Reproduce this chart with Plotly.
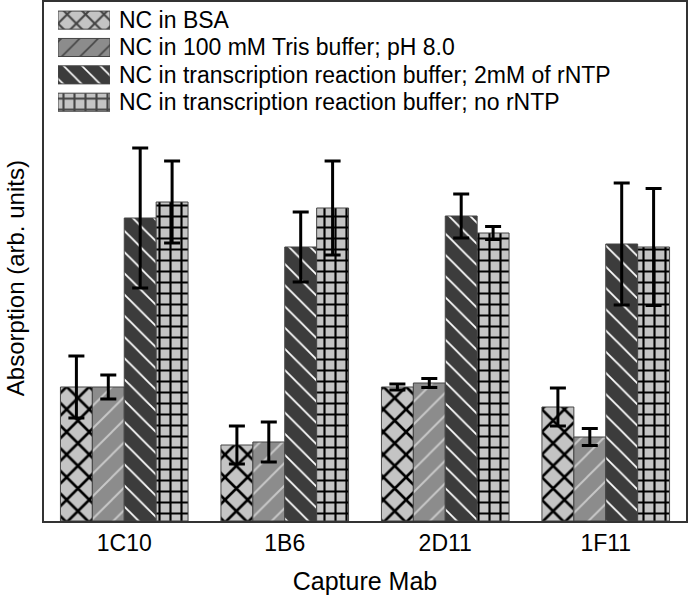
import plotly.graph_objects as go

categories = ["1C10", "1B6", "2D11", "1F11"]
series_names = [
    "NC in BSA",
    "NC in 100 mM Tris buffer; pH 8.0",
    "NC in transcription reaction buffer; 2mM of rNTP",
    "NC in transcription reaction buffer; no rNTP",
]
bsa = [1.34, 0.76, 1.34, 1.14]
bsa_err = [0.31, 0.19, 0.03, 0.19]
tris = [1.34, 0.79, 1.38, 0.84]
tris_err = [0.12, 0.20, 0.045, 0.085]
rntp = [3.03, 2.74, 3.05, 2.77]
rntp_err = [0.70, 0.35, 0.22, 0.61]
no_rntp = [3.19, 3.13, 2.88, 2.74]
no_rntp_err = [0.41, 0.47, 0.065, 0.585]

values = [bsa, tris, rntp, no_rntp]
errors = [bsa_err, tris_err, rntp_err, no_rntp_err]

fills = ["#c4c4c4", "#8c8c8c", "#3c3c3c", "#c4c4c4"]
shapes = ["x", "/", "\\", "+"]
fgcols = ["#000000", "#c8c8c8", "#ffffff", "#000000"]
psizes = [16, 16, 15, 11]
solid = [0.3, 0.12, 0.12, 0.35]

fig = go.Figure()
for i in range(4):
    fig.add_trace(go.Bar(
        x=categories, y=values[i], name=series_names[i], showlegend=False,
        marker=dict(color=fills[i], line=dict(color="#444444", width=1),
                    pattern=dict(shape=shapes[i], fgcolor=fgcols[i], bgcolor=fills[i],
                                 size=psizes[i], solidity=solid[i], fgopacity=1,
                                 fillmode="overlay")),
        error_y=dict(type="data", array=errors[i], visible=True, color="#000000",
                     thickness=3, width=8),
    ))

# legend swatches drawn as an inset bar subplot
fig.add_trace(go.Bar(
    x=[1, 1, 1, 1], y=series_names, orientation="h", width=0.66,
    xaxis="x2", yaxis="y2", showlegend=False, hoverinfo="skip",
    marker=dict(color=fills, line=dict(color="#444444", width=1),
                pattern=dict(shape=shapes, fgcolor=fgcols, bgcolor=fills,
                             size=[13, 13, 13, 11], solidity=solid, fgopacity=1,
                             fillmode="overlay")),
))

annotations = []
for name in series_names:
    annotations.append(dict(text=name, x=0.113, xref="paper", y=name, yref="y2",
                            xanchor="left", yanchor="middle", showarrow=False,
                            font=dict(size=23, color="#000000")))
annotations.append(dict(text="Absorption (arb. units)", x=-0.045, xref="paper",
                        y=0.468, yref="paper", textangle=-90, showarrow=False,
                        xanchor="center", yanchor="middle",
                        font=dict(size=24, color="#000000")))

fig.update_layout(
    template="none",
    width=688, height=596,
    margin=dict(l=44, r=2, t=2, b=75, autoexpand=False),
    paper_bgcolor="white", plot_bgcolor="white",
    font=dict(family="Liberation Sans, Arial, sans-serif", color="#000000"),
    barmode="group", bargap=0.205, bargroupgap=0,
    xaxis=dict(range=[-0.5, 3.5], showline=True, linecolor="#333333", linewidth=2,
               mirror=True, ticks="", tickfont=dict(size=23), automargin=False,
               showgrid=False, zeroline=False,
               title=dict(text="Capture Mab", font=dict(size=25), standoff=18)),
    yaxis=dict(range=[0, 5.19], showline=True, linecolor="#333333", linewidth=2,
               mirror=True, showticklabels=False, ticks="", showgrid=False,
               zeroline=False, automargin=False),
    xaxis2=dict(domain=[14 / 642, 66 / 642], range=[0, 1], anchor="y2",
                visible=False, fixedrange=True, automargin=False),
    yaxis2=dict(domain=[0.778, 0.994], anchor="x2", visible=False,
                type="category", categoryorder="array", categoryarray=series_names,
                autorange="reversed", fixedrange=True, automargin=False),
    annotations=annotations,
)

fig.write_html("out.html", config={"displayModeBar": False},
               post_script="document.body.style.margin='0';document.body.style.padding='0';")
